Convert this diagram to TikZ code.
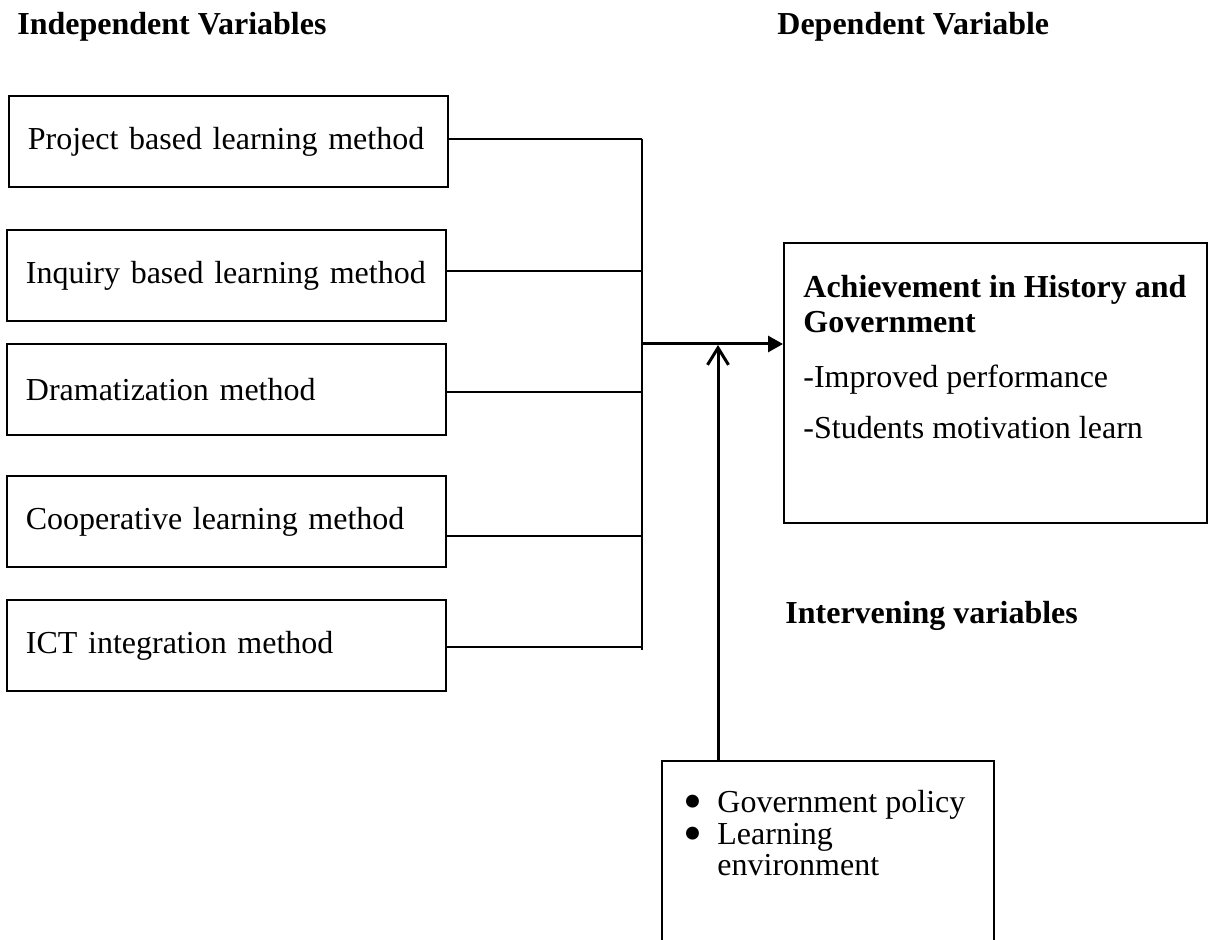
\documentclass[tikz,border=0pt]{standalone}
\usepackage{fontspec}
\setmainfont{Liberation Serif}
\usetikzlibrary{arrows.meta}
\newcommand{\ivbullet}{\makebox[17pt][l]{\smash{\raisebox{-3.6pt}{\fontsize{27}{0}\selectfont\textbullet}}}}
\tikzset{
  varbox/.style={draw, line width=0.9pt, anchor=north west, minimum height=45.5pt,
    text width=200.5pt, inner xsep=9.5pt, align=left, font=\fontsize{16}{17.5}\selectfont},
  heading/.style={anchor=base west, inner sep=0pt, font=\fontsize{16}{17.5}\selectfont\bfseries},
  link/.style={line width=0.9pt},
  flow/.style={line width=1.5pt, -{Triangle[length=7.5pt,width=8pt]}},
  moderate/.style={line width=1.5pt, -{Straight Barb[length=8.5pt,width=10.5pt]}}
}
\begin{document}
\begin{tikzpicture}[x=0.5pt,y=-0.5pt]
  \clip (0,0) rectangle (1214,940);
  % headings
  \node[heading] (indep) at (17,35) {Independent Variables};
  \node[heading] (dep) at (777,35) {Dependent Variable};
  \node[heading] (interv) at (785,623) {Intervening variables};
  % independent variables
  \node[varbox] (pbl) at (8,95) {Project based learning method};
  \node[varbox] (ibl) at (6,229) {Inquiry based learning method};
  \node[varbox] (drama) at (6,343) {Dramatization method};
  \node[varbox] (coop) at (6,475) {Cooperative learning method};
  \node[varbox] (ict) at (6,599) {ICT integration method};
  % bus on the right of the boxes
  \coordinate (bus1) at (642,139);
  \coordinate (bus2) at (642,271);
  \coordinate (bus3) at (642,392);
  \coordinate (bus4) at (642,536);
  \coordinate (bus5) at (642,647);
  \coordinate (busend) at (642,650);
  \coordinate (join) at (642,344);
  \draw[link] (bus1) -- (busend);
  \draw[link] (pbl.east |- bus1) -- (bus1);
  \draw[link] (ibl.east |- bus2) -- (bus2);
  \draw[link] (drama.east |- bus3) -- (bus3);
  \draw[link] (coop.east |- bus4) -- (bus4);
  \draw[link] (ict.east |- bus5) -- (bus5);
  % dependent variable
  \node[draw, line width=0.9pt, anchor=north west, minimum width=211.5pt, minimum height=140pt] (ach) at (783,242) {};
  \node[anchor=north west, inner sep=0pt, align=left, font=\fontsize{16}{17.5}\selectfont] (achtxt) at (803,275)
    {\textbf{Achievement in History and}\\\textbf{Government}\\[10pt]-Improved performance\\[8pt]-Students motivation learn};
  \draw[flow] (join) -- (ach.west |- join);
  % intervening variables
  \node[draw, line width=0.9pt, anchor=north west, minimum width=166pt, minimum height=120pt] (iv) at (661,760) {};
  \node[anchor=north west, inner sep=0pt, align=left, font=\fontsize{16}{15.75}\selectfont] (ivtxt) at (683,790)
    {\ivbullet Government policy\\\ivbullet Learning\\\hspace*{17pt}environment};
  \coordinate (meet) at (718,345);
  \draw[moderate] (iv.north -| meet) -- (meet);
\end{tikzpicture}
\end{document}
